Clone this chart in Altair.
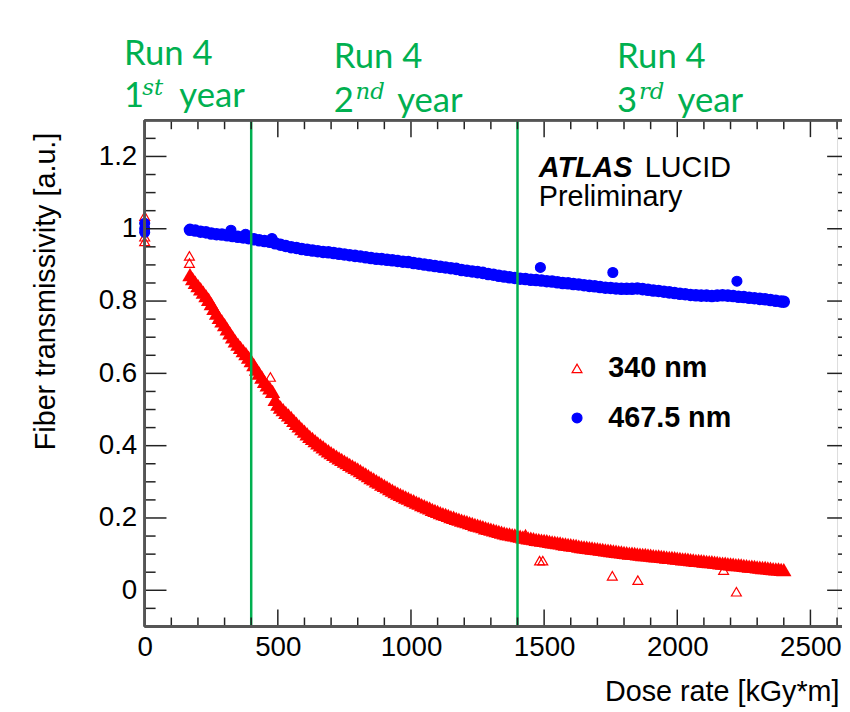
import altair as alt
import pandas as pd

# ---------------- data ----------------
# 340 nm : dense measurement band (dose [kGy*m], transmissivity), read every 10 kGy*m
red_band_x = [
    170, 180, 190, 200, 210, 220, 230, 240, 250, 260, 270, 280, 290, 300, 310, 320, 330, 340, 350, 360,
    370, 380, 390, 400, 410, 420, 430, 440, 450, 460, 470, 480, 490, 500, 510, 520, 530, 540, 550, 560,
    570, 580, 590, 600, 610, 620, 630, 640, 650, 660, 670, 680, 690, 700, 710, 720, 730, 740, 750, 760,
    770, 780, 790, 800, 810, 820, 830, 840, 850, 860, 870, 880, 890, 900, 910, 920, 930, 940, 950, 960,
    970, 980, 990, 1000, 1010, 1020, 1030, 1040, 1050, 1060, 1070, 1080, 1090, 1100, 1110, 1120, 1130,
    1140, 1150, 1160, 1170, 1180, 1190, 1200, 1210, 1220, 1230, 1240, 1250, 1260, 1270, 1280, 1290,
    1300, 1310, 1320, 1330, 1340, 1350, 1360, 1370, 1380, 1390, 1400, 1410, 1420, 1430, 1440, 1450,
    1460, 1470, 1480, 1490, 1500, 1510, 1520, 1530, 1540, 1550, 1560, 1570, 1580, 1590, 1600, 1610,
    1620, 1630, 1640, 1650, 1660, 1670, 1680, 1690, 1700, 1710, 1720, 1730, 1740, 1750, 1760, 1770,
    1780, 1790, 1800, 1810, 1820, 1830, 1840, 1850, 1860, 1870, 1880, 1890, 1900, 1910, 1920, 1930,
    1940, 1950, 1960, 1970, 1980, 1990, 2000, 2010, 2020, 2030, 2040, 2050, 2060, 2070, 2080, 2090,
    2100, 2110, 2120, 2130, 2140, 2150, 2160, 2170, 2180, 2190, 2200, 2210, 2220, 2230, 2240, 2250,
    2260, 2270, 2280, 2290, 2300, 2310, 2320, 2330, 2340, 2350, 2360, 2370, 2380, 2390, 2400]
red_band_y = [
    0.873, 0.862, 0.852, 0.843, 0.834, 0.825, 0.815, 0.805, 0.793, 0.780, 0.767, 0.755, 0.745, 0.735,
    0.723, 0.712, 0.701, 0.690, 0.681, 0.672, 0.663, 0.655, 0.645, 0.635, 0.624, 0.612, 0.601, 0.590,
    0.578, 0.568, 0.560, 0.550, 0.528, 0.515, 0.507, 0.500, 0.492, 0.485, 0.478, 0.470, 0.462, 0.455,
    0.447, 0.440, 0.433, 0.426, 0.420, 0.414, 0.408, 0.402, 0.397, 0.391, 0.386, 0.381, 0.376, 0.371,
    0.366, 0.362, 0.357, 0.353, 0.348, 0.344, 0.340, 0.336, 0.331, 0.326, 0.322, 0.317, 0.312, 0.308,
    0.303, 0.299, 0.294, 0.290, 0.286, 0.281, 0.277, 0.273, 0.269, 0.265, 0.262, 0.258, 0.255, 0.251,
    0.248, 0.244, 0.241, 0.237, 0.234, 0.231, 0.228, 0.224, 0.221, 0.218, 0.215, 0.212, 0.210, 0.207,
    0.204, 0.202, 0.199, 0.197, 0.194, 0.192, 0.190, 0.187, 0.185, 0.182, 0.180, 0.178, 0.176, 0.173,
    0.171, 0.169, 0.167, 0.165, 0.163, 0.161, 0.159, 0.157, 0.156, 0.154, 0.153, 0.151, 0.150, 0.148,
    0.147, 0.145, 0.144, 0.143, 0.141, 0.140, 0.139, 0.138, 0.137, 0.135, 0.134, 0.133, 0.132, 0.131,
    0.129, 0.128, 0.127, 0.126, 0.125, 0.124, 0.122, 0.121, 0.120, 0.119, 0.118, 0.117, 0.116, 0.115,
    0.114, 0.113, 0.112, 0.111, 0.110, 0.109, 0.108, 0.107, 0.106, 0.105, 0.104, 0.103, 0.103, 0.102,
    0.101, 0.100, 0.099, 0.099, 0.098, 0.097, 0.096, 0.095, 0.095, 0.094, 0.093, 0.092, 0.091, 0.091,
    0.090, 0.089, 0.088, 0.087, 0.087, 0.086, 0.085, 0.084, 0.083, 0.083, 0.082, 0.081, 0.080, 0.079,
    0.079, 0.078, 0.077, 0.076, 0.075, 0.075, 0.074, 0.073, 0.072, 0.071, 0.071, 0.070, 0.069, 0.068,
    0.067, 0.067, 0.066, 0.065, 0.064, 0.063, 0.063, 0.062, 0.061, 0.060, 0.059, 0.059, 0.058, 0.057]

# 340 nm : isolated measurements
red_pts_x = [0, 0, 0, 168, 168, 472, 1430, 1483, 1495, 1756, 1852, 2174, 2222]
red_pts_y = [1.035, 0.978, 0.965, 0.925, 0.905, 0.590, 0.155, 0.082, 0.082, 0.040, 0.028, 0.056, -0.004]

# 467.5 nm : dense measurement band, read every 20 kGy*m
blue_band_x = [
    170, 190, 210, 230, 250, 270, 290, 310, 330, 350, 370, 390, 410, 430, 450, 470, 490, 510, 530, 550,
    570, 590, 610, 630, 650, 670, 690, 710, 730, 750, 770, 790, 810, 830, 850, 870, 890, 910, 930, 950,
    970, 990, 1010, 1030, 1050, 1070, 1090, 1110, 1130, 1150, 1170, 1190, 1210, 1230, 1250, 1270, 1290,
    1310, 1330, 1350, 1370, 1390, 1410, 1430, 1450, 1470, 1490, 1510, 1530, 1550, 1570, 1590, 1610,
    1630, 1650, 1670, 1690, 1710, 1730, 1750, 1770, 1790, 1810, 1830, 1850, 1870, 1890, 1910, 1930,
    1950, 1970, 1990, 2010, 2030, 2050, 2070, 2090, 2110, 2130, 2150, 2170, 2190, 2210, 2230, 2250,
    2270, 2290, 2310, 2330, 2350, 2370, 2390, 2400]
blue_band_y = [
    0.997, 0.995, 0.992, 0.990, 0.987, 0.985, 0.984, 0.982, 0.980, 0.978, 0.976, 0.974, 0.971, 0.968,
    0.966, 0.964, 0.960, 0.956, 0.952, 0.949, 0.947, 0.944, 0.942, 0.940, 0.938, 0.936, 0.935, 0.933,
    0.931, 0.929, 0.927, 0.925, 0.923, 0.921, 0.919, 0.917, 0.916, 0.914, 0.913, 0.911, 0.909, 0.908,
    0.905, 0.903, 0.901, 0.899, 0.897, 0.895, 0.893, 0.891, 0.889, 0.886, 0.884, 0.882, 0.880, 0.878,
    0.875, 0.873, 0.870, 0.868, 0.866, 0.864, 0.862, 0.861, 0.859, 0.858, 0.857, 0.855, 0.854, 0.852,
    0.850, 0.849, 0.847, 0.846, 0.844, 0.842, 0.841, 0.839, 0.837, 0.836, 0.835, 0.834, 0.834, 0.834,
    0.835, 0.833, 0.831, 0.829, 0.828, 0.826, 0.824, 0.822, 0.820, 0.819, 0.817, 0.816, 0.815, 0.815,
    0.814, 0.815, 0.816, 0.815, 0.814, 0.812, 0.811, 0.809, 0.808, 0.806, 0.805, 0.803, 0.801, 0.799,
    0.798]

# 467.5 nm : isolated measurements
blue_pts_x = [0, 0, 0, 324, 379, 478, 1486, 1758, 2224]
blue_pts_y = [1.015, 1.000, 0.990, 0.996, 0.985, 0.973, 0.893, 0.879, 0.855]

series_names = ["340 nm", "467.5 nm"]
series_colors = ["#ff0000", "#0000ff"]

# Run-4 year boundaries
run_lines_x = [400, 1400]

# axis ticks
x_major = [0, 500, 1000, 1500, 2000, 2500]
x_minor = [100, 200, 300, 400, 600, 700, 800, 900, 1100, 1200, 1300, 1400, 1600, 1700, 1800,
           1900, 2100, 2200, 2300, 2400, 2600]
y_major = [0, 0.2, 0.4, 0.6, 0.8, 1.0, 1.2]
y_minor = [-0.05, 0.05, 0.1, 0.15, 0.25, 0.3, 0.35, 0.45, 0.5, 0.55, 0.65, 0.7, 0.75, 0.85, 0.9,
           0.95, 1.05, 1.1, 1.15, 1.25]

# annotations (data coordinates)
green_text = ["Run 4", "1", "year", "Run 4", "2", "year", "Run 4", "3", "year"]
green_x = [-78, -78, 130, 710, 710, 948, 1774, 1774, 2001]
green_y = [1.453, 1.336, 1.336, 1.445, 1.322, 1.322, 1.445, 1.322, 1.322]
sup_text = ["st", "nd", "rd"]
sup_x = [-9, 792, 1856]
sup_y = [1.369, 1.360, 1.358]
atlas_text = ["ATLAS"]
atlas_x = [1480]
atlas_y = [1.144]
lucid_text = ["LUCID", "Preliminary"]
lucid_x = [1878, 1480]
lucid_y = [1.144, 1.062]

# ---------------- chart ----------------
W, H = 699, 511
GREEN = "#00b050"
FONT = "Liberation Sans"

xs = alt.Scale(domain=[0, 2600], nice=False, zero=False)
ys = alt.Scale(domain=[-0.1, 1.3], nice=False, zero=False)

xaxis = alt.Axis(values=x_major, format="d", grid=False, ticks=False, tickSize=0, domain=False,
                 labelFontSize=28, labelFont=FONT, labelColor="black", labelPadding=7,
                 labelFlush=False, labelOverlap=False, title="Dose rate [kGy*m]",
                 titleFont=FONT, titleFontSize=29, titleFontWeight="normal", titleColor="black",
                 titleAlign="right", titleBaseline="alphabetic", titleX=701, titleY=75, titleAngle=0)
yaxis = alt.Axis(values=y_major, format="~g", grid=False, ticks=False, tickSize=0, domain=False,
                 labelFontSize=28, labelFont=FONT, labelColor="black", labelPadding=8,
                 labelOverlap=False, title="Fiber transmissivity [a.u.]",
                 titleFont=FONT, titleFontSize=29, titleFontWeight="normal", titleColor="black",
                 titleAngle=270, titleAlign="right", titleBaseline="alphabetic", titleX=-91, titleY=12)

X = lambda: alt.X("x:Q", scale=xs, axis=xaxis)
Y = lambda: alt.Y("y:Q", scale=ys, axis=yaxis)

red_band = pd.DataFrame({"x": red_band_x, "y": red_band_y})
blue_band = pd.DataFrame({"x": blue_band_x, "y": blue_band_y})
pts = pd.DataFrame({
    "x": red_pts_x + blue_pts_x,
    "y": red_pts_y + blue_pts_y,
    "series": [series_names[0]] * len(red_pts_x) + [series_names[1]] * len(blue_pts_x),
})

legend = alt.Legend(orient="none", legendX=422, legendY=236, title=None, padding=0,
                    labelFontSize=29, labelFontWeight="bold", labelFont=FONT, labelColor="black",
                    symbolSize=100, symbolStrokeWidth=1.2, labelOffset=17, rowPadding=20)

red_band_layer = alt.Chart(red_band).mark_point(
    shape="triangle-up", filled=True, color=series_colors[0], size=240, opacity=1
).encode(x=X(), y=Y())

blue_band_layer = alt.Chart(blue_band).mark_circle(
    color=series_colors[1], size=160, opacity=1
).encode(x=X(), y=Y())

pts_layer = alt.Chart(pts).mark_point(size=100, opacity=1, strokeWidth=1.2).encode(
    x=X(), y=Y(),
    shape=alt.Shape("series:N", scale=alt.Scale(domain=series_names, range=["triangle-up", "circle"]), legend=legend),
    stroke=alt.Stroke("series:N", scale=alt.Scale(domain=series_names, range=series_colors), legend=legend),
    fill=alt.Fill("series:N", scale=alt.Scale(domain=series_names, range=["transparent", series_colors[1]]), legend=legend),
)

run_layer = alt.Chart(pd.DataFrame({"x": run_lines_x})).mark_rule(
    color=GREEN, strokeWidth=2.5
).encode(x=X())

TICK = "#222222"
xmaj = pd.DataFrame({"x": x_major})
xmin = pd.DataFrame({"x": x_minor})
ymaj = pd.DataFrame({"y": y_major})
ymin = pd.DataFrame({"y": y_minor})
tick_layers = [
    alt.Chart(xmaj).mark_rule(color=TICK, strokeWidth=1.5).encode(x=X(), y=alt.value(H), y2=alt.value(H - 17)),
    alt.Chart(xmin).mark_rule(color=TICK, strokeWidth=1.5).encode(x=X(), y=alt.value(H), y2=alt.value(H - 9)),
    alt.Chart(xmaj).mark_rule(color=TICK, strokeWidth=1.5).encode(x=X(), y=alt.value(0), y2=alt.value(17)),
    alt.Chart(xmin).mark_rule(color=TICK, strokeWidth=1.5).encode(x=X(), y=alt.value(0), y2=alt.value(9)),
    alt.Chart(ymaj).mark_rule(color=TICK, strokeWidth=1.5).encode(y=Y(), x=alt.value(0), x2=alt.value(22)),
    alt.Chart(ymin).mark_rule(color=TICK, strokeWidth=1.5).encode(y=Y(), x=alt.value(0), x2=alt.value(11)),
    alt.Chart(ymaj).mark_rule(color=TICK, strokeWidth=1.5).encode(y=Y(), x=alt.value(W + 12), x2=alt.value(W - 10)),
    alt.Chart(ymin).mark_rule(color=TICK, strokeWidth=1.5).encode(y=Y(), x=alt.value(W + 12), x2=alt.value(W + 1)),
]

FRAME = "#555555"
frame_layers = [
    alt.Chart(ymaj).mark_rule(color=FRAME, strokeWidth=2).encode(x=alt.value(0), y=alt.value(0), y2=alt.value(H)),
    alt.Chart(ymaj).mark_rule(color=FRAME, strokeWidth=2).encode(x=alt.value(0), x2=alt.value(W + 6), y=alt.value(0)),
    alt.Chart(ymaj).mark_rule(color=FRAME, strokeWidth=2).encode(x=alt.value(0), x2=alt.value(W + 6), y=alt.value(H)),
]

green_df = pd.DataFrame({"x": green_x, "y": green_y, "t": green_text})
sup_df = pd.DataFrame({"x": sup_x, "y": sup_y, "t": sup_text})
atlas_df = pd.DataFrame({"x": atlas_x, "y": atlas_y, "t": atlas_text})
lucid_df = pd.DataFrame({"x": lucid_x, "y": lucid_y, "t": lucid_text})

green_layer = alt.Chart(green_df).mark_text(
    align="left", baseline="alphabetic", font="Lato", fontSize=35, color=GREEN
).encode(x=X(), y=Y(), text="t:N")
sup_layer = alt.Chart(sup_df).mark_text(
    align="left", baseline="alphabetic", font="DejaVu Serif", fontStyle="italic", fontSize=23, color=GREEN
).encode(x=X(), y=Y(), text="t:N")
atlas_layer = alt.Chart(atlas_df).mark_text(
    align="left", baseline="alphabetic", font=FONT, fontStyle="italic", fontWeight="bold", fontSize=29, color="black"
).encode(x=X(), y=Y(), text="t:N")
lucid_layer = alt.Chart(lucid_df).mark_text(
    align="left", baseline="alphabetic", font=FONT, fontSize=29, color="black"
).encode(x=X(), y=Y(), text="t:N")

chart = alt.layer(
    red_band_layer, blue_band_layer, pts_layer, run_layer, *tick_layers, *frame_layers,
    green_layer, sup_layer, atlas_layer, lucid_layer
).properties(
    width=W, height=H,
    autosize=alt.AutoSizeParams(type="none"),
    padding={"left": 138, "top": 110, "right": 5, "bottom": 82},
).configure_view(stroke=None).configure(background="white")

chart.save("out.html", embed_options={"renderer": "svg", "actions": False})
